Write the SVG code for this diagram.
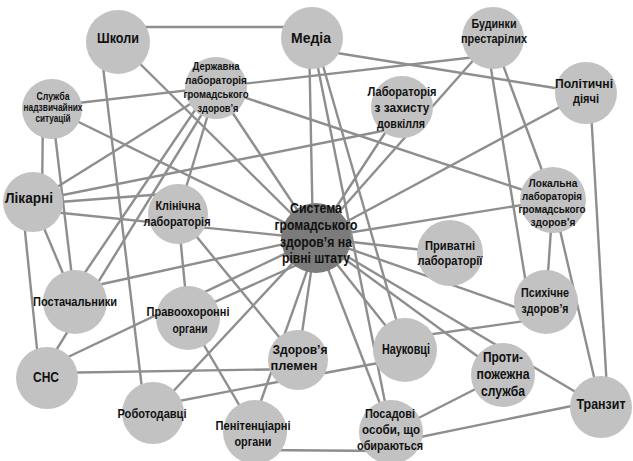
<svg xmlns="http://www.w3.org/2000/svg" width="633" height="461" viewBox="0 0 633 461">
<style>
.e line{stroke:#8e8e8e;stroke-width:2.4;fill:none}
.n circle{fill:#c2c2c2}
.n.hub circle{fill:#7b7b7b}
text{font-family:"Liberation Sans",Arial,sans-serif;font-weight:bold;fill:#111;text-anchor:middle}
.xl{font-size:15.5px}
.l{font-size:14.5px}
.m{font-size:13px}
.s{font-size:11.5px}
.xs{font-size:10px}
</style>
<rect width="633" height="461" fill="#fff"/>
<g id="connectors" class="e">
<line x1="118" y1="27" x2="312" y2="27"/>
<line x1="100" y1="42" x2="145" y2="413"/>
<line x1="118" y1="42" x2="316" y2="238"/>
<line x1="312" y1="49" x2="586" y2="93"/>
<line x1="309" y1="38" x2="313" y2="238"/>
<line x1="315" y1="38" x2="405" y2="350"/>
<line x1="312" y1="38" x2="391" y2="432"/>
<line x1="52" y1="106" x2="493" y2="55"/>
<line x1="43" y1="109" x2="42" y2="202"/>
<line x1="52" y1="109" x2="75" y2="302"/>
<line x1="52" y1="109" x2="316" y2="238"/>
<line x1="216" y1="88" x2="33" y2="202"/>
<line x1="210" y1="88" x2="65" y2="302"/>
<line x1="218" y1="88" x2="39" y2="378"/>
<line x1="216" y1="88" x2="178" y2="214"/>
<line x1="216" y1="88" x2="316" y2="238"/>
<line x1="216" y1="88" x2="553" y2="200"/>
<line x1="493" y1="38" x2="316" y2="238"/>
<line x1="486" y1="38" x2="529" y2="302"/>
<line x1="493" y1="38" x2="553" y2="200"/>
<line x1="586" y1="93" x2="316" y2="238"/>
<line x1="590" y1="93" x2="608" y2="407"/>
<line x1="33" y1="201" x2="402" y2="127"/>
<line x1="402" y1="107" x2="316" y2="238"/>
<line x1="33" y1="204" x2="178" y2="193"/>
<line x1="33" y1="210" x2="316" y2="239"/>
<line x1="22" y1="202" x2="40" y2="378"/>
<line x1="33" y1="202" x2="75" y2="302"/>
<line x1="178" y1="214" x2="188" y2="318"/>
<line x1="178" y1="214" x2="298" y2="360"/>
<line x1="553" y1="200" x2="316" y2="238"/>
<line x1="553" y1="200" x2="546" y2="302"/>
<line x1="553" y1="200" x2="601" y2="407"/>
<line x1="316" y1="238" x2="450" y2="253"/>
<line x1="330" y1="242" x2="546" y2="318"/>
<line x1="546" y1="318" x2="405" y2="338"/>
<line x1="316" y1="238" x2="503" y2="375"/>
<line x1="316" y1="238" x2="601" y2="407"/>
<line x1="316" y1="238" x2="405" y2="350"/>
<line x1="316" y1="238" x2="391" y2="432"/>
<line x1="316" y1="238" x2="298" y2="360"/>
<line x1="75" y1="290" x2="316" y2="237"/>
<line x1="47" y1="367" x2="316" y2="239"/>
<line x1="188" y1="314" x2="330" y2="250"/>
<line x1="188" y1="318" x2="255" y2="432"/>
<line x1="47" y1="373" x2="298" y2="369"/>
<line x1="298" y1="378" x2="405" y2="358"/>
<line x1="153" y1="406" x2="298" y2="378"/>
<line x1="153" y1="413" x2="316" y2="238"/>
<line x1="250" y1="432" x2="318" y2="240"/>
<line x1="255" y1="450" x2="391" y2="451"/>
<line x1="391" y1="432" x2="503" y2="375"/>
<line x1="391" y1="443" x2="601" y2="400"/>
</g>
<g id="n-shkoly" class="n"><circle cx="118" cy="42" r="32"/><text class="xl" x="118" y="43" textLength="42" lengthAdjust="spacingAndGlyphs">Школи</text></g>
<g id="n-media" class="n"><circle cx="312" cy="38" r="31"/><text class="xl" x="311" y="43" textLength="40" lengthAdjust="spacingAndGlyphs">Медіа</text></g>
<g id="n-budynky" class="n"><circle cx="493" cy="38" r="31"/><text class="m" x="494" y="28" textLength="45" lengthAdjust="spacingAndGlyphs">Будинки</text><text class="m" x="494" y="43" textLength="66" lengthAdjust="spacingAndGlyphs">престарілих</text></g>
<g id="n-politychni" class="n"><circle cx="586" cy="93" r="31"/><text class="m" x="584" y="88" textLength="58" lengthAdjust="spacingAndGlyphs">Політичні</text><text class="m" x="586" y="103" textLength="26" lengthAdjust="spacingAndGlyphs">діячі</text></g>
<g id="n-derzhavna" class="n"><circle cx="216" cy="88" r="31"/><text class="s" x="216" y="70" textLength="47" lengthAdjust="spacingAndGlyphs">Державна</text><text class="s" x="216" y="84" textLength="62" lengthAdjust="spacingAndGlyphs">лабораторія</text><text class="s" x="216" y="98" textLength="65" lengthAdjust="spacingAndGlyphs">громадського</text><text class="s" x="218" y="112" textLength="41" lengthAdjust="spacingAndGlyphs">здоров’я</text></g>
<g id="n-sluzhba" class="n"><circle cx="52" cy="109" r="30"/><text class="xs" x="53" y="100" textLength="33" lengthAdjust="spacingAndGlyphs">Служба</text><text class="xs" x="53" y="111" textLength="59" lengthAdjust="spacingAndGlyphs">надзвичайних</text><text class="xs" x="53" y="122" textLength="35" lengthAdjust="spacingAndGlyphs">ситуацій</text></g>
<g id="n-dovkillia" class="n"><circle cx="402" cy="107" r="31"/><text class="m" x="402" y="96" textLength="69" lengthAdjust="spacingAndGlyphs">Лабораторія</text><text class="m" x="402" y="112" textLength="55" lengthAdjust="spacingAndGlyphs">з захисту</text><text class="m" x="401" y="128" textLength="48" lengthAdjust="spacingAndGlyphs">довкілля</text></g>
<g id="n-likarni" class="n"><circle cx="33" cy="202" r="30"/><text class="xl" x="29" y="203" textLength="48" lengthAdjust="spacingAndGlyphs">Лікарні</text></g>
<g id="n-klinichna" class="n"><circle cx="178" cy="214" r="30"/><text class="m" x="178" y="210" textLength="45" lengthAdjust="spacingAndGlyphs">Клінічна</text><text class="m" x="177" y="226" textLength="67" lengthAdjust="spacingAndGlyphs">лабораторія</text></g>
<g id="n-systema" class="n hub"><circle cx="316" cy="238" r="35"/><text class="l" x="316" y="213" textLength="52" lengthAdjust="spacingAndGlyphs">Система</text><text class="l" x="316" y="230" textLength="83" lengthAdjust="spacingAndGlyphs">громадського</text><text class="l" x="316" y="247" textLength="72" lengthAdjust="spacingAndGlyphs">здоров’я на</text><text class="l" x="316" y="263" textLength="68" lengthAdjust="spacingAndGlyphs">рівні штату</text></g>
<g id="n-lokalna" class="n"><circle cx="553" cy="200" r="33"/><text class="s" x="553" y="187" textLength="49" lengthAdjust="spacingAndGlyphs">Локальна</text><text class="s" x="552" y="200" textLength="60" lengthAdjust="spacingAndGlyphs">лабораторія</text><text class="s" x="552" y="213" textLength="67" lengthAdjust="spacingAndGlyphs">громадського</text><text class="s" x="553" y="226" textLength="45" lengthAdjust="spacingAndGlyphs">здоров’я</text></g>
<g id="n-pryvatni" class="n"><circle cx="450" cy="253" r="33"/><text class="m" x="450" y="250" textLength="50" lengthAdjust="spacingAndGlyphs">Приватні</text><text class="m" x="450" y="265" textLength="65" lengthAdjust="spacingAndGlyphs">лабораторії</text></g>
<g id="n-psykhichne" class="n"><circle cx="546" cy="302" r="32"/><text class="m" x="545" y="297" textLength="48" lengthAdjust="spacingAndGlyphs">Психічне</text><text class="m" x="545" y="313" textLength="47" lengthAdjust="spacingAndGlyphs">здоров’я</text></g>
<g id="n-postachalnyky" class="n"><circle cx="75" cy="302" r="32"/><text class="m" x="75" y="306" textLength="84" lengthAdjust="spacingAndGlyphs">Постачальники</text></g>
<g id="n-pravookhoronni" class="n"><circle cx="188" cy="318" r="32"/><text class="m" x="188" y="316" textLength="83" lengthAdjust="spacingAndGlyphs">Правоохоронні</text><text class="m" x="190" y="333" textLength="35" lengthAdjust="spacingAndGlyphs">органи</text></g>
<g id="n-naukovtsi" class="n"><circle cx="405" cy="350" r="32"/><text class="l" x="406" y="354" textLength="48" lengthAdjust="spacingAndGlyphs">Науковці</text></g>
<g id="n-plemen" class="n"><circle cx="298" cy="360" r="30"/><text class="m" x="300" y="354" textLength="55" lengthAdjust="spacingAndGlyphs">Здоров’я</text><text class="m" x="294" y="370" textLength="47" lengthAdjust="spacingAndGlyphs">племен</text></g>
<g id="n-sns" class="n"><circle cx="47" cy="378" r="31"/><text class="xl" x="46" y="382" textLength="26" lengthAdjust="spacingAndGlyphs">СНС</text></g>
<g id="n-pozhezhna" class="n"><circle cx="503" cy="375" r="32"/><text class="l" x="503" y="362" textLength="40" lengthAdjust="spacingAndGlyphs">Проти-</text><text class="l" x="503" y="379" textLength="53" lengthAdjust="spacingAndGlyphs">пожежна</text><text class="l" x="503" y="396" textLength="44" lengthAdjust="spacingAndGlyphs">служба</text></g>
<g id="n-tranzyt" class="n"><circle cx="601" cy="407" r="31"/><text class="l" x="601" y="409" textLength="49" lengthAdjust="spacingAndGlyphs">Транзит</text></g>
<g id="n-robotodavtsi" class="n"><circle cx="153" cy="413" r="31"/><text class="m" x="152" y="418" textLength="69" lengthAdjust="spacingAndGlyphs">Роботодавці</text></g>
<g id="n-penitentsiarni" class="n"><circle cx="255" cy="432" r="32"/><text class="m" x="253" y="430" textLength="75" lengthAdjust="spacingAndGlyphs">Пенітенціарні</text><text class="m" x="253" y="446" textLength="37" lengthAdjust="spacingAndGlyphs">органи</text></g>
<g id="n-posadovi" class="n"><circle cx="391" cy="432" r="32"/><text class="m" x="390" y="418" textLength="50" lengthAdjust="spacingAndGlyphs">Посадові</text><text class="m" x="391" y="434" textLength="58" lengthAdjust="spacingAndGlyphs">особи, що</text><text class="m" x="390" y="450" textLength="66" lengthAdjust="spacingAndGlyphs">обираються</text></g>
</svg>
